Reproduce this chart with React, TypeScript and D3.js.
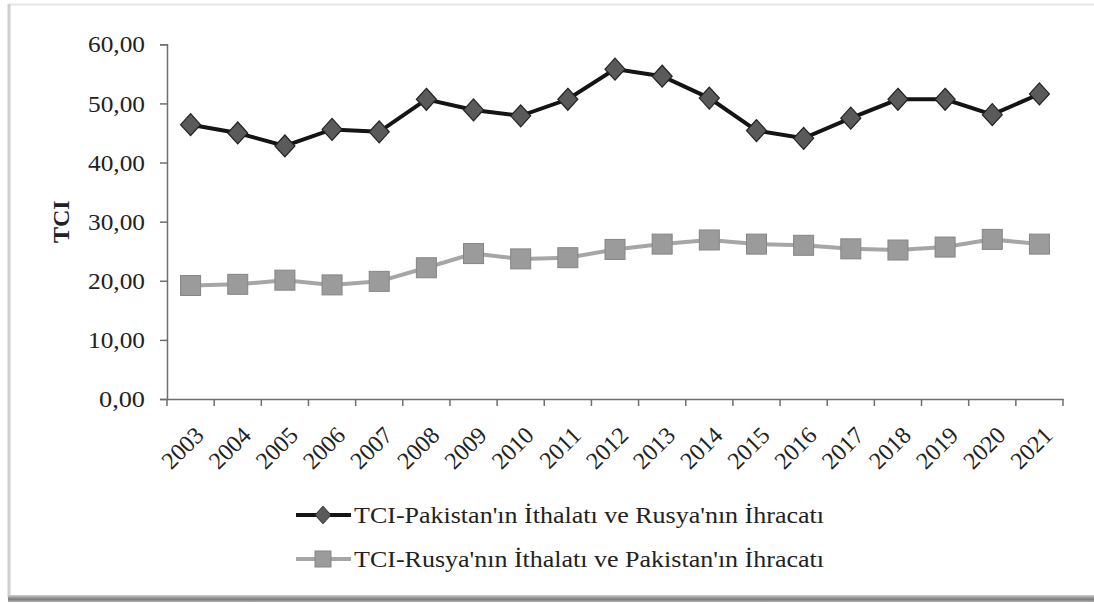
import * as React from 'react';
import {useEffect, useRef} from 'react';
import * as d3 from 'd3';

const years = ['2003','2004','2005','2006','2007','2008','2009','2010','2011','2012','2013','2014','2015','2016','2017','2018','2019','2020','2021'];
const pakImportRusExport = [46.4, 45.0, 42.8, 45.6, 45.2, 50.7, 48.9, 47.9, 50.7, 55.8, 54.6, 50.9, 45.4, 44.1, 47.5, 50.7, 50.7, 48.1, 51.6];
const rusImportPakExport = [19.2, 19.4, 20.1, 19.3, 19.9, 22.2, 24.6, 23.7, 23.9, 25.3, 26.2, 26.9, 26.2, 26.0, 25.4, 25.2, 25.7, 27.0, 26.2];
const yTicks = [0, 10, 20, 30, 40, 50, 60];
const seriesNames = ["TCI-Pakistan'ın İthalatı ve Rusya'nın İhracatı", "TCI-Rusya'nın İthalatı ve Pakistan'ın İhracatı"];

const W = 1094;
const H = 604;

const App = () => {
    const chartRef = useRef(null);

    useEffect(() => {
        const svg = d3.select(chartRef.current);
        svg.selectAll('*').remove();

        const left = 167, right = 1063, top = 44.3, bottom = 399;
        const font = '"Liberation Serif", "Times New Roman", serif';

        // frame with shadow
        const defs = svg.append('defs');
        const grad = defs.append('linearGradient').attr('id', 'bshadow').attr('x1', 0).attr('x2', 0).attr('y1', 0).attr('y2', 1);
        grad.append('stop').attr('offset', '0%').attr('stop-color', '#d0d0d0');
        grad.append('stop').attr('offset', '60%').attr('stop-color', '#7a7a7a');
        grad.append('stop').attr('offset', '100%').attr('stop-color', '#b0b0b0');
        svg.append('rect').attr('x', 0).attr('y', 0).attr('width', W).attr('height', H).attr('fill', '#fff');
        svg.append('line').attr('x1', 9).attr('x2', W).attr('y1', 4.5).attr('y2', 4.5).attr('stroke', '#e6e6e6').attr('stroke-width', 2);
        svg.append('line').attr('x1', 9).attr('x2', 9).attr('y1', 4).attr('y2', 598).attr('stroke', '#cfcfcf').attr('stroke-width', 3);
        svg.append('rect').attr('x', 8).attr('y', 595).attr('width', W - 8).attr('height', 7).attr('fill', 'url(#bshadow)');

        const x = d3.scaleBand().domain(years).range([left, right]).padding(0);
        const y = d3.scaleLinear().domain([0, 60]).range([bottom, top]);
        const cx = (d) => x(d) + x.bandwidth() / 2;

        // y axis
        const yAxis = svg.append('g')
            .attr('transform', `translate(${left},0)`)
            .call(d3.axisLeft(y).tickValues(yTicks).tickSize(7).tickPadding(15)
                .tickFormat(d => d3.format('.2f')(d).replace('.', ',')));
        yAxis.select('.domain').attr('stroke', '#6e6e6e').attr('stroke-width', 1.5);
        yAxis.selectAll('.tick line').attr('stroke', '#6e6e6e').attr('stroke-width', 1.5);
        yAxis.selectAll('text').attr('font-family', font).attr('font-size', 24).attr('fill', '#222')
            .attr('textLength', d => d === 0 ? 46 : 57).attr('lengthAdjust', 'spacingAndGlyphs');

        // x axis
        const xAxis = svg.append('g')
            .attr('transform', `translate(0,${bottom})`)
            .call(d3.axisBottom(x).tickSize(0).tickFormat(() => ''));
        xAxis.select('.domain').attr('stroke', '#6e6e6e').attr('stroke-width', 1.5);
        xAxis.selectAll('.tick').remove();
        const bounds = years.map(d => x(d)).concat([right]);
        xAxis.selectAll('line.bt').data(bounds).enter().append('line')
            .attr('x1', d => d).attr('x2', d => d).attr('y1', 0).attr('y2', 7)
            .attr('stroke', '#6e6e6e').attr('stroke-width', 1.5);

        svg.append('g').selectAll('text').data(years).enter().append('text')
            .attr('transform', d => `translate(${cx(d) + 9},${bottom + 32}) rotate(-45)`)
            .attr('text-anchor', 'end')
            .attr('dominant-baseline', 'central')
            .attr('font-family', font).attr('font-size', 24).attr('fill', '#222')
            .text(d => d);

        svg.append('text')
            .attr('transform', `translate(69,${(top + bottom) / 2}) rotate(-90)`)
            .attr('text-anchor', 'middle')
            .attr('font-family', font).attr('font-size', 24).attr('font-weight', 'bold').attr('fill', '#222')
            .text('TCI');

        const line = d3.line().x((d, i) => cx(years[i])).y(d => y(d));

        // series 2 (squares)
        svg.append('path').datum(rusImportPakExport).attr('d', line)
            .attr('fill', 'none').attr('stroke', '#a6a6a6').attr('stroke-width', 4);
        svg.append('g').selectAll('rect').data(rusImportPakExport).enter().append('rect')
            .attr('x', (d, i) => cx(years[i]) - 10).attr('y', d => y(d) - 10)
            .attr('width', 20).attr('height', 20)
            .attr('fill', '#9b9b9b').attr('stroke', '#858585').attr('stroke-width', 1);

        // series 1 (diamonds)
        const diamond = 'M0,-11L10,0L0,11L-10,0Z';
        svg.append('path').datum(pakImportRusExport).attr('d', line)
            .attr('fill', 'none').attr('stroke', '#141414').attr('stroke-width', 4);
        svg.append('g').selectAll('path').data(pakImportRusExport).enter().append('path')
            .attr('transform', (d, i) => `translate(${cx(years[i])},${y(d)})`)
            .attr('d', diamond)
            .attr('fill', '#5a5a5a').attr('stroke', '#222').attr('stroke-width', 1.2);

        // legend
        const legend = svg.append('g');
        const rows = [
            {name: seriesNames[0], y: 515, color: '#141414', marker: 'diamond'},
            {name: seriesNames[1], y: 559, color: '#a6a6a6', marker: 'square'},
        ];
        rows.forEach(r => {
            legend.append('line').attr('x1', 296).attr('x2', 351).attr('y1', r.y).attr('y2', r.y)
                .attr('stroke', r.color).attr('stroke-width', 4);
            if (r.marker === 'diamond') {
                legend.append('path').attr('transform', `translate(323,${r.y}) scale(0.8)`).attr('d', diamond)
                    .attr('fill', '#5a5a5a').attr('stroke', '#222').attr('stroke-width', 1.2);
            } else {
                legend.append('rect').attr('x', 315).attr('y', r.y - 8).attr('width', 16).attr('height', 16)
                    .attr('fill', '#9b9b9b').attr('stroke', '#858585');
            }
            legend.append('text').attr('x', 354).attr('y', r.y).attr('dominant-baseline', 'central')
                .attr('font-family', font).attr('font-size', 24).attr('fill', '#222')
                .attr('textLength', 470).attr('lengthAdjust', 'spacingAndGlyphs')
                .text(r.name);
        });
    }, []);

    return (
        <svg ref={chartRef} width={W} height={H} style={{position: 'absolute', left: 0, top: 0, display: 'block'}}></svg>
    );
};

export default App;
